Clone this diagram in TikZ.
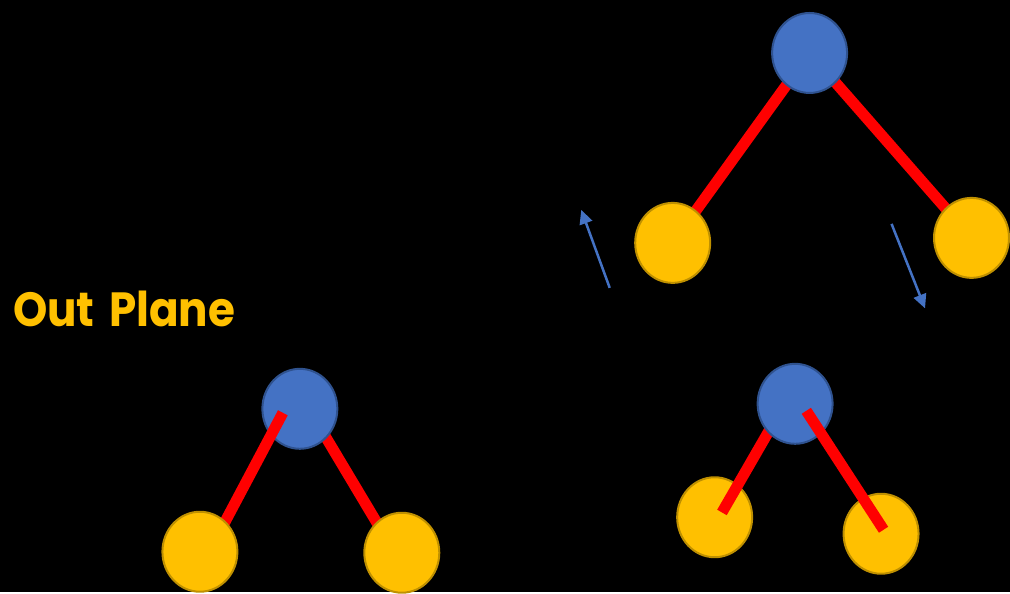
\documentclass[tikz,border=0pt]{standalone}
\usepackage{fontspec}
\newfontfamily\headfont{Poppins}
\usetikzlibrary{shapes.geometric,arrows.meta}
\definecolor{atomblue}{HTML}{4472C4}
\definecolor{atomblueline}{HTML}{2F528F}
\definecolor{atomgold}{HTML}{FFC000}
\definecolor{atomgoldline}{HTML}{BF9000}
\definecolor{bondred}{HTML}{FF0000}
\pgfdeclarelayer{canvas}
\pgfdeclarelayer{L0}
\pgfdeclarelayer{L1}
\pgfdeclarelayer{L2}
\pgfsetlayers{canvas,L0,L1,L2,main}
\tikzset{
  bluatom/.style={ellipse,fill=atomblue,draw=atomblueline,line width=2pt,minimum width=75pt,minimum height=80pt,inner sep=0pt},
  goldatom/.style={ellipse,fill=atomgold,draw=atomgoldline,line width=2pt,minimum width=75pt,minimum height=80pt,inner sep=0pt},
  bond/.style={draw=bondred,line width=11pt,line cap=butt},
  motion/.style={draw=atomblue,line width=2.5pt,-{Triangle[length=14pt,width=13pt]}}
}
\begin{document}
\begin{tikzpicture}[x=1pt,y=-1pt]
\begin{pgfonlayer}{canvas}
\useasboundingbox[fill=black] (0,0) rectangle (1010,592);
\end{pgfonlayer}
% label
\node[anchor=base west,inner sep=0pt,text=atomgold,font=\headfont\bfseries\fontsize{48}{56}\selectfont] (lbl) at (13,327) {\scalebox{0.91}[1]{Out\hspace{0.12em} Plane}};
% top molecule
\node[bluatom] (t0) at (810,53) {};
\node[goldatom] (t1) at (673,243) {};
\node[goldatom] (t2) at (972,238) {};
\begin{pgfonlayer}{L0}
\draw[bond] (t0.center) -- (t1.center);
\draw[bond] (t0.center) -- (t2.center);
\end{pgfonlayer}
% motion arrows
\coordinate (a1s) at (610,288);
\coordinate (a1e) at (581.5,210);
\coordinate (a2s) at (892,224);
\coordinate (a2e) at (925.5,308.5);
\draw[motion] (a1s) -- (a1e);
\draw[motion] (a2s) -- (a2e);
% bottom-left molecule
\begin{pgfonlayer}{L1}
\node[bluatom] (b0) at (300,409) {};
\end{pgfonlayer}
\node[goldatom] (b1) at (200,552) {};
\node[goldatom] (b2) at (402,553) {};
\coordinate (b1s) at (283,413);
\coordinate (b1e) at (213,545);
\coordinate (b2s) at (309,409);
\coordinate (b2e) at (395,553);
\begin{pgfonlayer}{L0}
\draw[bond] (b2s) -- (b2e);
\end{pgfonlayer}
\begin{pgfonlayer}{L2}
\draw[bond] (b1s) -- (b1e);
\end{pgfonlayer}
% bottom-right molecule
\begin{pgfonlayer}{L0}
\node[goldatom] (r1) at (715,517.5) {};
\node[goldatom] (r2) at (881.5,534) {};
\end{pgfonlayer}
\begin{pgfonlayer}{L2}
\node[bluatom] (r0) at (795.5,404) {};
\end{pgfonlayer}
\coordinate (r1s) at (722.3,512.7);
\coordinate (r1e) at (785,404);
\coordinate (r2s) at (806.7,411);
\coordinate (r2e) at (884,530);
\begin{pgfonlayer}{L1}
\draw[bond] (r1s) -- (r1e);
\end{pgfonlayer}
\draw[bond] (r2s) -- (r2e);
\end{tikzpicture}
\end{document}
